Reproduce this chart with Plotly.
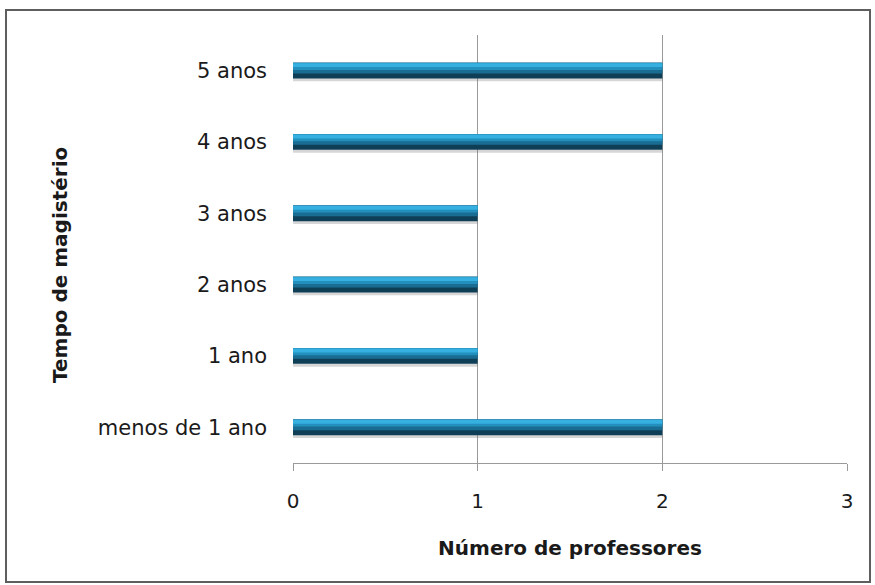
import plotly.graph_objects as go

categorias = ["menos de 1 ano", "1 ano", "2 anos", "3 anos", "4 anos", "5 anos"]
professores = [2, 1, 1, 1, 2, 2]
x_ticks = [0, 1, 2, 3]

FONT = "DejaVu Sans, sans-serif"

fig = go.Figure()
# shadow
fig.add_trace(go.Bar(y=categorias, x=professores, orientation="h",
                     width=0.05, offset=-0.15,
                     marker=dict(color="rgba(120,120,120,0.30)", line=dict(width=0)),
                     hoverinfo="skip", showlegend=False))
# dark body
fig.add_trace(go.Bar(y=categorias, x=professores, orientation="h",
                     width=0.22, offset=-0.11,
                     marker=dict(color="#0f3f57", line=dict(width=0)),
                     showlegend=False))
# mid tone
fig.add_trace(go.Bar(y=categorias, x=professores, orientation="h",
                     width=0.15, offset=-0.04,
                     marker=dict(color="#1a6d92", line=dict(width=0)),
                     hoverinfo="skip", showlegend=False))
# upper tone
fig.add_trace(go.Bar(y=categorias, x=professores, orientation="h",
                     width=0.10, offset=0.01,
                     marker=dict(color="#238fbd", line=dict(width=0)),
                     hoverinfo="skip", showlegend=False))
# highlight
fig.add_trace(go.Bar(y=categorias, x=professores, orientation="h",
                     width=0.055, offset=0.05,
                     marker=dict(color="#35b0e0", line=dict(width=0)),
                     hoverinfo="skip", showlegend=False))

L, R, T, B = 293, 847, 35, 463
W, H = 875, 585
pw, ph = R - L, B - T

def px(x):
    return (x - L) / pw

def py(y):
    return (B - y) / ph

fig.add_shape(type="rect", xref="paper", yref="paper",
              x0=px(6), x1=px(870), y0=py(582), y1=py(10),
              line=dict(color="#5e5e5e", width=2), layer="below")

fig.add_annotation(text="<b>Tempo de magistério</b>", xref="paper", yref="paper",
                   x=px(60), y=py(265), xanchor="center", yanchor="middle",
                   textangle=-90, showarrow=False,
                   font=dict(size=20, family=FONT, color="#1a1a1a"))

fig.update_layout(
    width=W, height=H,
    margin=dict(l=L, r=W - R, t=T, b=H - B, pad=0),
    paper_bgcolor="white", plot_bgcolor="white",
    barmode="overlay",
    font=dict(family=FONT, size=21, color="#1a1a1a"),
    xaxis=dict(range=[0, 3], tickvals=x_ticks, showgrid=True, gridcolor="#9a9a9a",
               gridwidth=1, zeroline=False, showline=True, linecolor="#9a9a9a",
               ticks="outside", ticklen=7, tickcolor="#9a9a9a",
               ticklabelstandoff=13,
               tickfont=dict(size=20, family=FONT), fixedrange=True,
               title=dict(text="<b>Número de professores</b>", font=dict(size=20, family=FONT),
                          standoff=28)),
    yaxis=dict(categoryorder="array", categoryarray=categorias,
               showgrid=False, showline=False, zeroline=False,
               ticks="", ticklabelstandoff=25,
               tickfont=dict(size=21, family=FONT)),
)

fig.write_html("out.html")
